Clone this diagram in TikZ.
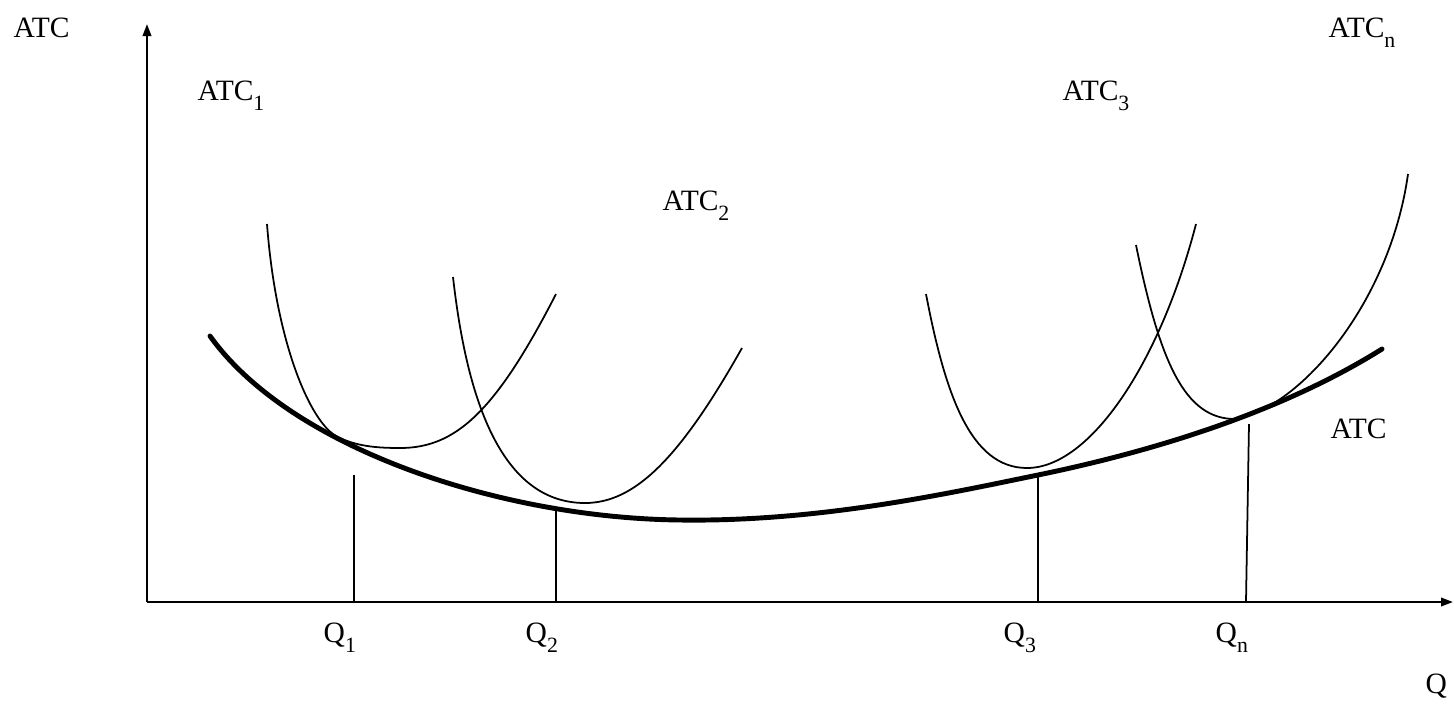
\documentclass[tikz,border=0pt]{standalone}
\usepackage{fontspec}
\setmainfont{Liberation Serif}
\usetikzlibrary{arrows.meta}
\newcommand{\lowsub}[1]{\raisebox{-0.36em}{\fontsize{6.2}{7}\selectfont #1}}
\begin{document}
\begin{tikzpicture}[
  lbl/.style={inner sep=0pt,anchor=base west,font=\fontsize{8.4}{10}\selectfont},
  axis/.style={line width=0.6pt,-{Triangle[length=1.2mm,width=0.85mm]}},
  srun/.style={line width=0.5pt},
  lrun/.style={line width=1.4pt,line cap=round},
  drop/.style={line width=0.5pt}]
  \useasboundingbox (0,0) rectangle (14.54,7.03);
  \coordinate (O) at (1.47,1.01);
  \coordinate (ytip) at (1.47,6.79);
  \coordinate (xtip) at (14.53,1.01);
  \draw[axis] (O)--(ytip);
  \draw[axis] (O)--(xtip);
  % short-run curves
  \draw[srun] (2.67,4.79) .. controls (2.76,3.6) and (3.1,2.82) .. (3.36,2.67)
    .. controls (3.55,2.57) and (3.75,2.55) .. (4.00,2.55)
    .. controls (4.55,2.55) and (4.95,2.9) .. (5.56,4.09);
  \draw[srun] (4.53,4.26) .. controls (4.65,3.2) and (4.95,2.0) .. (5.85,2.00)
    .. controls (6.35,2.0) and (6.8,2.45) .. (7.42,3.55);
  \draw[srun] (9.26,4.09) .. controls (9.45,3.1) and (9.7,2.35) .. (10.27,2.35)
    .. controls (10.9,2.35) and (11.6,3.4) .. (11.96,4.79);
  \draw[srun] (11.36,4.58) .. controls (11.6,3.4) and (11.85,2.84) .. (12.35,2.84)
    .. controls (13.0,2.95) and (13.9,4.0) .. (14.08,5.29);
  % long-run envelope
  \draw[lrun] (2.10,3.67) .. controls (2.9,2.55) and (5.0,1.85) .. (6.80,1.83)
    .. controls (8.2,1.81) and (9.5,2.1) .. (10.38,2.28)
    .. controls (11.5,2.51) and (12.8,2.9) .. (13.82,3.54);
  % drop lines
  \coordinate (q1a) at (3.54,1.01);  \coordinate (q1b) at (3.54,2.28);
  \coordinate (q2a) at (5.56,1.01);  \coordinate (q2b) at (5.56,1.93);
  \coordinate (q3a) at (10.38,1.01); \coordinate (q3b) at (10.38,2.29);
  \coordinate (qna) at (12.46,1.01); \coordinate (qnb) at (12.49,2.79);
  \draw[drop] (q1a)--(q1b);
  \draw[drop] (q2a)--(q2b);
  \draw[drop] (q3a)--(q3b);
  \draw[drop] (qna)--(qnb);
  % labels
  \node[lbl] (yl) at (0.13,6.66) {ATC};
  \node[lbl] (atc1) at (1.97,6.03) {ATC\lowsub{1}};
  \node[lbl] (atc2) at (6.62,4.93) {ATC\lowsub{2}};
  \node[lbl] (atc3) at (10.62,6.03) {ATC\lowsub{3}};
  \node[lbl] (atcn) at (13.28,6.66) {ATC\lowsub{n}};
  \node[lbl] (atcl) at (13.30,2.65) {ATC};
  \node[lbl] (ql1) at (3.23,0.61) {Q\lowsub{1}};
  \node[lbl] (ql2) at (5.25,0.61) {Q\lowsub{2}};
  \node[lbl] (ql3) at (10.03,0.61) {Q\lowsub{3}};
  \node[lbl] (qln) at (12.15,0.61) {Q\lowsub{n}};
  \node[lbl] (xl) at (14.25,0.10) {Q};
\end{tikzpicture}
\end{document}
